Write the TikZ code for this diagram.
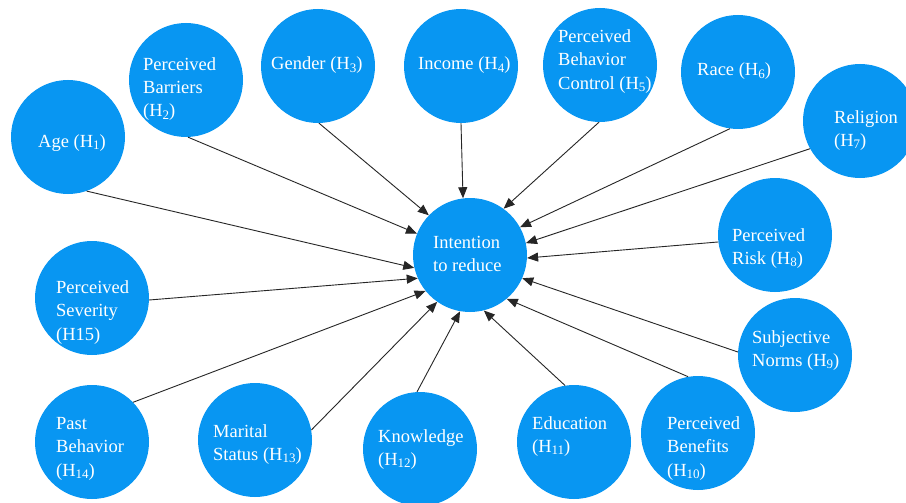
\documentclass[tikz,border=0pt]{standalone}
\usepackage{fontspec}
\setmainfont{Liberation Serif}
\usetikzlibrary{arrows.meta}
\definecolor{cblue}{RGB}{8,150,242}
\newcommand\hs[1]{\raisebox{-0.12em}{\fontsize{13}{13}\selectfont #1}}
\begin{document}
\begin{tikzpicture}[x=1pt,y=-1pt,
  bub/.style={circle,fill=cblue,draw=none,minimum size=114pt,inner sep=0pt},
  lbl/.style={anchor=base west,align=left,text=white,inner sep=0pt,
    font=\fontsize{18.5}{23.5}\selectfont},
  conn/.style={draw=black!85,line width=0.9pt,-{Triangle[length=11pt,width=9pt]}}]
\useasboundingbox[fill=white] (0,0) rectangle (906,503);
% circles
\node[bub] (int) at (470,255) {};
\node[bub] (age) at (68,137) {};
\node[bub] (bar) at (186,80) {};
\node[bub] (gen) at (318,66) {};
\node[bub] (inc) at (461,66) {};
\node[bub] (pbc) at (600,65) {};
\node[bub] (race) at (738,72) {};
\node[bub] (rel) at (860,121) {};
\node[bub] (risk) at (775,235) {};
\node[bub] (norm) at (795,355) {};
\node[bub] (ben) at (698,433) {};
\node[bub] (edu) at (574,442) {};
\node[bub] (know) at (420,449) {};
\node[bub] (mar) at (255,440) {};
\node[bub] (past) at (92,442) {};
\node[bub] (sev) at (92,298) {};
% labels (anchor = baseline of last line)
\node[lbl] (tint) at (433,271.5) {Intention\\to reduce};
\node[lbl] (tage) at (38,147) {Age (H\hs{1})};
\node[lbl] (tbar) at (143,117) {Perceived\\Barriers\\(H\hs{2})};
\node[lbl] (tgen) at (271,70) {Gender (H\hs{3})};
\node[lbl] (tinc) at (418,70) {Income (H\hs{4})};
\node[lbl] (tpbc) at (558,89) {Perceived\\Behavior\\Control (H\hs{5})};
\node[lbl] (trace) at (697,76) {Race (H\hs{6})};
\node[lbl] (trel) at (834,146.5) {Religion\\(H\hs{7})};
\node[lbl] (trisk) at (732,264.5) {Perceived\\Risk (H\hs{8})};
\node[lbl] (tnorm) at (752,366.5) {Subjective\\Norms (H\hs{9})};
\node[lbl] (tben) at (667,476) {Perceived\\Benefits\\(H\hs{10})};
\node[lbl] (tedu) at (532,452.5) {Education\\(H\hs{11})};
\node[lbl] (tknow) at (378,465.5) {Knowledge\\(H\hs{12})};
\node[lbl] (tmar) at (213,460.5) {Marital\\Status (H\hs{13})};
\node[lbl] (tpast) at (56,476) {Past\\Behavior\\(H\hs{14})};
\node[lbl] (tsev) at (56,340) {Perceived\\Severity\\(H15)};
% connectors
\draw[conn] (age.-71) -- (int.193);
\draw[conn] (bar.-88) -- (int.158);
\draw[conn] (gen.-89) -- (int.136);
\draw[conn] (inc.-90) -- (int.97);
\draw[conn] (pbc.-91) -- (int.54);
\draw[conn] (race.262) -- (int.29);
\draw[conn] (rel.209) -- (int.12);
\draw[conn] (risk.187) -- (int.-3);
\draw[conn] (norm.177) -- (int.-24);
\draw[conn] (ben.100) -- (int.-50);
\draw[conn] (edu.99) -- (int.-76);
\draw[conn] (know.93) -- (int.260);
\draw[conn] (mar.10) -- (int.235);
\draw[conn] (past.44) -- (int.219);
\draw[conn] (sev.-2) -- (int.204);
\end{tikzpicture}
\end{document}
